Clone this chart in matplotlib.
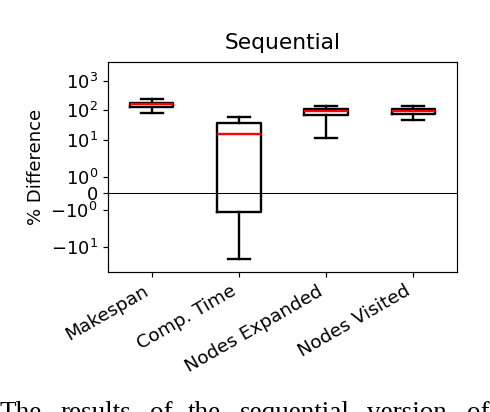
import matplotlib
matplotlib.use("Agg")
import matplotlib.pyplot as plt

# ---- data ----
categories = ["Makespan", "Comp. Time", "Nodes Expanded", "Nodes Visited"]
whislo = [82.8, -25.6, 11.7, 45.9]
q1 = [132.0, -1.11, 70.4, 76.8]
med = [160.5, 16.0, 92.5, 96.2]
q3 = [180.0, 37.7, 112.0, 113.0]
whishi = [248.0, 60.2, 141.7, 141.7]

title = "Sequential"
ylabel = "% Difference"
caption_words = ["The", "results", "of", "the", "sequential", "version", "of"]
caption_x_px = [0, 60, 150, 188, 240, 367, 467]

W, H = 490, 412
fig = plt.figure(figsize=(W / 100, H / 100), dpi=100)
ax = fig.add_axes([108 / W, 1 - 272 / H, (457 - 108) / W, (272 - 62) / H])

stats = []
for i, c in enumerate(categories):
    stats.append(dict(label=c, whislo=whislo[i], q1=q1[i], med=med[i],
                      q3=q3[i], whishi=whishi[i], fliers=[]))

lw = 1.7
ax.bxp(stats, positions=range(1, len(categories) + 1), widths=0.5,
       showfliers=False,
       boxprops=dict(color="black", linewidth=lw),
       whiskerprops=dict(color="black", linewidth=lw),
       capprops=dict(color="black", linewidth=lw),
       medianprops=dict(color="red", linewidth=lw))

ax.set_yscale("symlog", linthresh=2)
ax.set_ylim(-70, 4300)
ax.set_xlim(0.5, len(categories) + 0.5)
ax.axhline(0, color="black", linewidth=0.75)

ax.set_xticks(range(1, len(categories) + 1))
ax.set_xticklabels(categories, rotation=30, ha="right", fontsize=13.3)
ax.tick_params(axis="y", labelsize=13)
ax.tick_params(width=0.86, length=3.8)
for s in ax.spines.values():
    s.set_linewidth(0.86)
ax.set_ylabel(ylabel, fontsize=13)
ax.set_title(title, fontsize=15.7, pad=9.5)

for w, x in zip(caption_words, caption_x_px):
    fig.text(x / W, 1 - 420 / H, w, fontsize=19.5, family="Liberation Serif",
             ha="left", va="baseline")

fig.savefig("out.png", dpi=100)
